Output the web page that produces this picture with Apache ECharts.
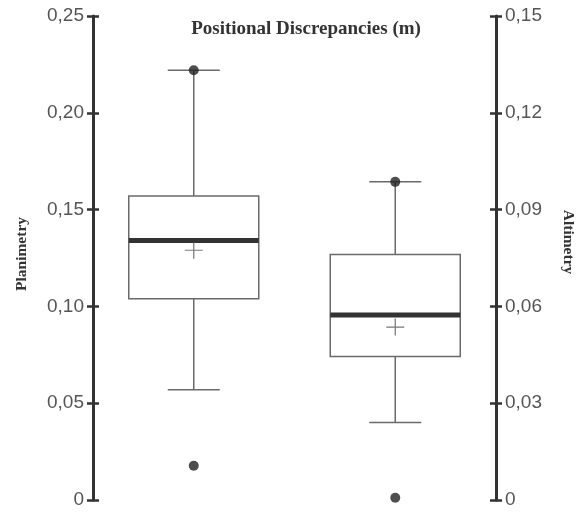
<!DOCTYPE html>
<html>
<head>
<meta charset="utf-8">
<script src="https://cdn.jsdelivr.net/npm/echarts@6/dist/echarts.min.js"></script>
<style>html,body{margin:0;padding:0;background:#fff;}#c{width:576px;height:517px;}</style>
</head>
<body>
<div id="c"></div>
<script>
// ---- data ----
const categories = ['Planimetry', 'Altimetry'];
// [min whisker, Q1, median, Q3, max whisker]
const planimetryBox = [0.057, 0.104, 0.134, 0.157, 0.222];
const altimetryBox = [0.024, 0.0445, 0.0573, 0.0761, 0.0986];
const planimetryMean = 0.129;
const altimetryMean = 0.0536;
const planimetryPoints = [0.222, 0.0177];
const altimetryPoints = [0.0986, 0.0007];
const leftAxisRange = [0, 0.25, 0.05];
const rightAxisRange = [0, 0.15, 0.03];
const titleText = 'Positional Discrepancies (m)';

const fmt = v => (v === 0 ? '0' : v.toFixed(2).replace('.', ','));

function renderBox(params, api) {
  const x = api.value(0);
  const p = [1, 2, 3, 4, 5].map(i => api.coord([x, api.value(i)]));
  const cx = p[0][0];
  const hw = 65, cw = 26;
  const st = { stroke: '#6a6a6a', lineWidth: 1.5, fill: 'none' };
  return {
    type: 'group',
    children: [
      { type: 'line', shape: { x1: cx, y1: p[4][1], x2: cx, y2: p[3][1] }, style: st },
      { type: 'line', shape: { x1: cx, y1: p[0][1], x2: cx, y2: p[1][1] }, style: st },
      { type: 'line', shape: { x1: cx - cw, y1: p[4][1], x2: cx + cw, y2: p[4][1] }, style: st },
      { type: 'line', shape: { x1: cx - cw, y1: p[0][1], x2: cx + cw, y2: p[0][1] }, style: st },
      { type: 'rect', shape: { x: cx - hw, y: p[3][1], width: 2 * hw, height: p[1][1] - p[3][1] }, style: { stroke: '#6a6a6a', lineWidth: 1.5, fill: '#fff' } },
      { type: 'line', shape: { x1: cx - hw, y1: p[2][1], x2: cx + hw, y2: p[2][1] }, style: { stroke: '#333', lineWidth: 5 } }
    ]
  };
}

const labelStyle = { fontFamily: 'Liberation Sans', fontSize: 19, color: '#555' };
const lineStyle = { color: '#333', width: 3 };
const tickStyle = { color: '#333', width: 2.5 };

function mainAxis(range, position, name, rotate, gap, margin, namePadding) {
  return {
    type: 'value', position, min: range[0], max: range[1], interval: range[2],
    name, nameLocation: 'middle', nameRotate: rotate, nameGap: gap,
    nameTextStyle: { fontFamily: 'Liberation Serif', fontWeight: 'bold', fontSize: 15.5, color: '#333', padding: namePadding },
    axisLine: { show: true, lineStyle },
    axisTick: { show: true, length: 6, lineStyle: tickStyle },
    axisLabel: Object.assign({ formatter: fmt, margin }, labelStyle),
    splitLine: { show: false }
  };
}
function innerAxis(range, position) {
  return {
    type: 'value', position, min: range[0], max: range[1], interval: range[2],
    axisLine: { show: false },
    axisTick: { show: true, inside: true, length: 6, lineStyle: tickStyle },
    axisLabel: { show: false },
    splitLine: { show: false }
  };
}

const plusSymbol = 'path://M0,9L18,9M9,0L9,18';

const option = {
  animation: false,
  backgroundColor: '#fff',
  title: {
    text: titleText, left: 301, top: 15, textAlign: 'center',
    textStyle: { fontFamily: 'Liberation Serif', fontWeight: 'bold', fontSize: 19, color: '#333' }
  },
  grid: { left: 93, right: 80, top: 16, bottom: 17, containLabel: false, outerBoundsMode: 'none' },
  xAxis: {
    type: 'category', data: categories, boundaryGap: true,
    axisLine: { show: false }, axisTick: { show: false }, axisLabel: { show: false }, splitLine: { show: false }
  },
  yAxis: [
    mainAxis(leftAxisRange, 'left', 'Planimetry', 90, 63, 9, [0, 0, 0, 8]),
    mainAxis(rightAxisRange, 'right', 'Altimetry', -90, 64, 9, [0, 32, 0, 0]),
    innerAxis(leftAxisRange, 'left'),
    innerAxis(rightAxisRange, 'right')
  ],
  series: [
    { type: 'custom', yAxisIndex: 0, renderItem: renderBox, encode: { x: 0, y: [1, 2, 3, 4, 5] },
      data: [[0].concat(planimetryBox)], z: 2 },
    { type: 'custom', yAxisIndex: 1, renderItem: renderBox, encode: { x: 0, y: [1, 2, 3, 4, 5] },
      data: [[1].concat(altimetryBox)], z: 2 },
    { type: 'scatter', yAxisIndex: 0, symbol: 'circle', symbolSize: 10, itemStyle: { color: '#222' },
      data: planimetryPoints.map(v => [0, v]), z: 5 },
    { type: 'scatter', yAxisIndex: 1, symbol: 'circle', symbolSize: 10, itemStyle: { color: '#222' },
      data: altimetryPoints.map(v => [1, v]), z: 5 },
    { type: 'scatter', yAxisIndex: 0, symbol: plusSymbol, symbolSize: [18, 17],
      itemStyle: { color: 'none', borderColor: '#555', borderWidth: 1.2 },
      data: [[0, planimetryMean]], z: 5 },
    { type: 'scatter', yAxisIndex: 1, symbol: plusSymbol, symbolSize: [18, 17],
      itemStyle: { color: 'none', borderColor: '#555', borderWidth: 1.2 },
      data: [[1, altimetryMean]], z: 5 }
  ]
};

echarts.init(document.getElementById('c'), null, { renderer: 'canvas' }).setOption(option);
</script>
</body>
</html>
